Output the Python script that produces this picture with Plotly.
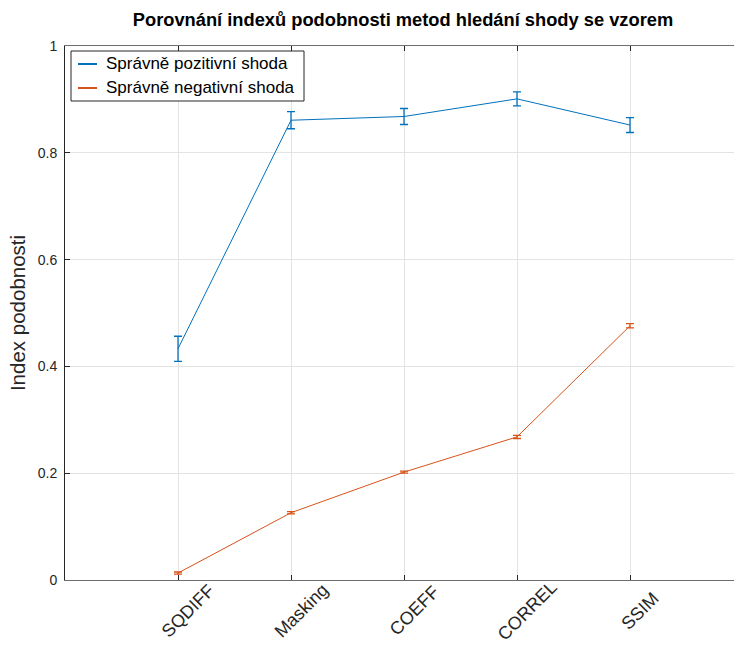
import plotly.graph_objects as go

# Similarity index per template matching method
methods = ["SQDIFF", "Masking", "COEFF", "CORREL", "SSIM"]
tp_mean = [0.433, 0.861, 0.868, 0.901, 0.852]
tp_err = [0.0235, 0.016, 0.015, 0.013, 0.014]
tn_mean = [0.013, 0.126, 0.202, 0.268, 0.476]
tn_err = [0.002, 0.002, 0.002, 0.003, 0.004]
series_names = ["Správně pozitivní shoda", "Správně negativní shoda"]
y_ticks = [0, 0.2, 0.4, 0.6, 0.8, 1]
y_ticklabels = ["0", "0.2", "0.4", "0.6", "0.8", "1"]

BLUE = "#0072BD"
ORANGE = "#D95319"
AX = "#262626"
FONT = "Liberation Sans"

W, H = 734, 646
ML, MT, MB, MR = 65, 46, 66, 0
PW, PH = W - ML - MR, H - MT - MB

xpos = list(range(1, len(methods) + 1))

fig = go.Figure()
for vals, errs, color in [(tp_mean, tp_err, BLUE), (tn_mean, tn_err, ORANGE)]:
    fig.add_trace(go.Scatter(
        x=xpos, y=vals, mode="lines",
        line=dict(color=color, width=1),
        error_y=dict(type="data", array=errs, visible=True,
                     color=color, thickness=1.3, width=4),
        showlegend=False, hoverinfo="skip",
    ))

# Pixel -> paper coordinate helpers
def px(x):
    return (x - ML) / PW

def py(y):
    return 1 - (y - MT) / PH

# Legend box
shapes = [dict(type="rect", xref="paper", yref="paper",
               x0=px(71), x1=px(304), y0=py(101), y1=py(51),
               line=dict(color=AX, width=1), fillcolor="white", layer="above")]
annotations = []
for i, (name, color) in enumerate(zip(series_names, [BLUE, ORANGE])):
    yc = 64 + i * 24
    shapes.append(dict(type="line", xref="paper", yref="paper",
                       x0=px(78), x1=px(97), y0=py(yc), y1=py(yc),
                       line=dict(color=color, width=2), layer="above"))
    annotations.append(dict(xref="paper", yref="paper", x=px(104), y=py(yc),
                            text=name, showarrow=False, xanchor="left",
                            yanchor="middle",
                            font=dict(family=FONT, size=17, color="#000000")))

# Rotated category labels, centred below each tick
for xv, name in zip(xpos, methods):
    annotations.append(dict(xref="x", yref="paper", x=xv, y=py(611),
                            xshift=10, text=name, textangle=-45,
                            showarrow=False, xanchor="center", yanchor="middle",
                            font=dict(family=FONT, size=18, color=AX)))

fig.update_layout(
    width=W, height=H,
    margin=dict(l=ML, r=MR, t=MT, b=MB, pad=0),
    paper_bgcolor="white", plot_bgcolor="white",
    title=dict(text="<b>Porovnání indexů podobnosti metod hledání shody se vzorem</b>",
               x=px(403), xref="paper", xanchor="center",
               y=1 - 20 / H, yref="container", yanchor="middle",
               font=dict(family=FONT, size=18.3, color="#000000")),
    shapes=shapes, annotations=annotations,
    font=dict(family=FONT, color=AX),
)
fig.update_xaxes(
    range=[0, PW / 113], tickvals=xpos, showticklabels=False, automargin=False,
    showgrid=True, gridcolor="#e3e3e3", gridwidth=1,
    showline=True, linecolor="#6e6e6e", linewidth=1, mirror="ticks",
    ticks="inside", ticklen=5, tickcolor=AX, zeroline=False,
)
fig.update_yaxes(
    range=[0, 1], tickvals=y_ticks, ticktext=y_ticklabels, automargin=False,
    tickfont=dict(family=FONT, size=14, color=AX), ticklabelstandoff=4,
    title=dict(text="Index podobnosti", font=dict(family=FONT, size=20.5, color=AX),
               standoff=6),
    showgrid=True, gridcolor="#e3e3e3", gridwidth=1,
    showline=True, linecolor=AX, linewidth=1,
    ticks="inside", ticklen=5, tickcolor=AX, zeroline=False,
)

fig.write_html("out.html")
